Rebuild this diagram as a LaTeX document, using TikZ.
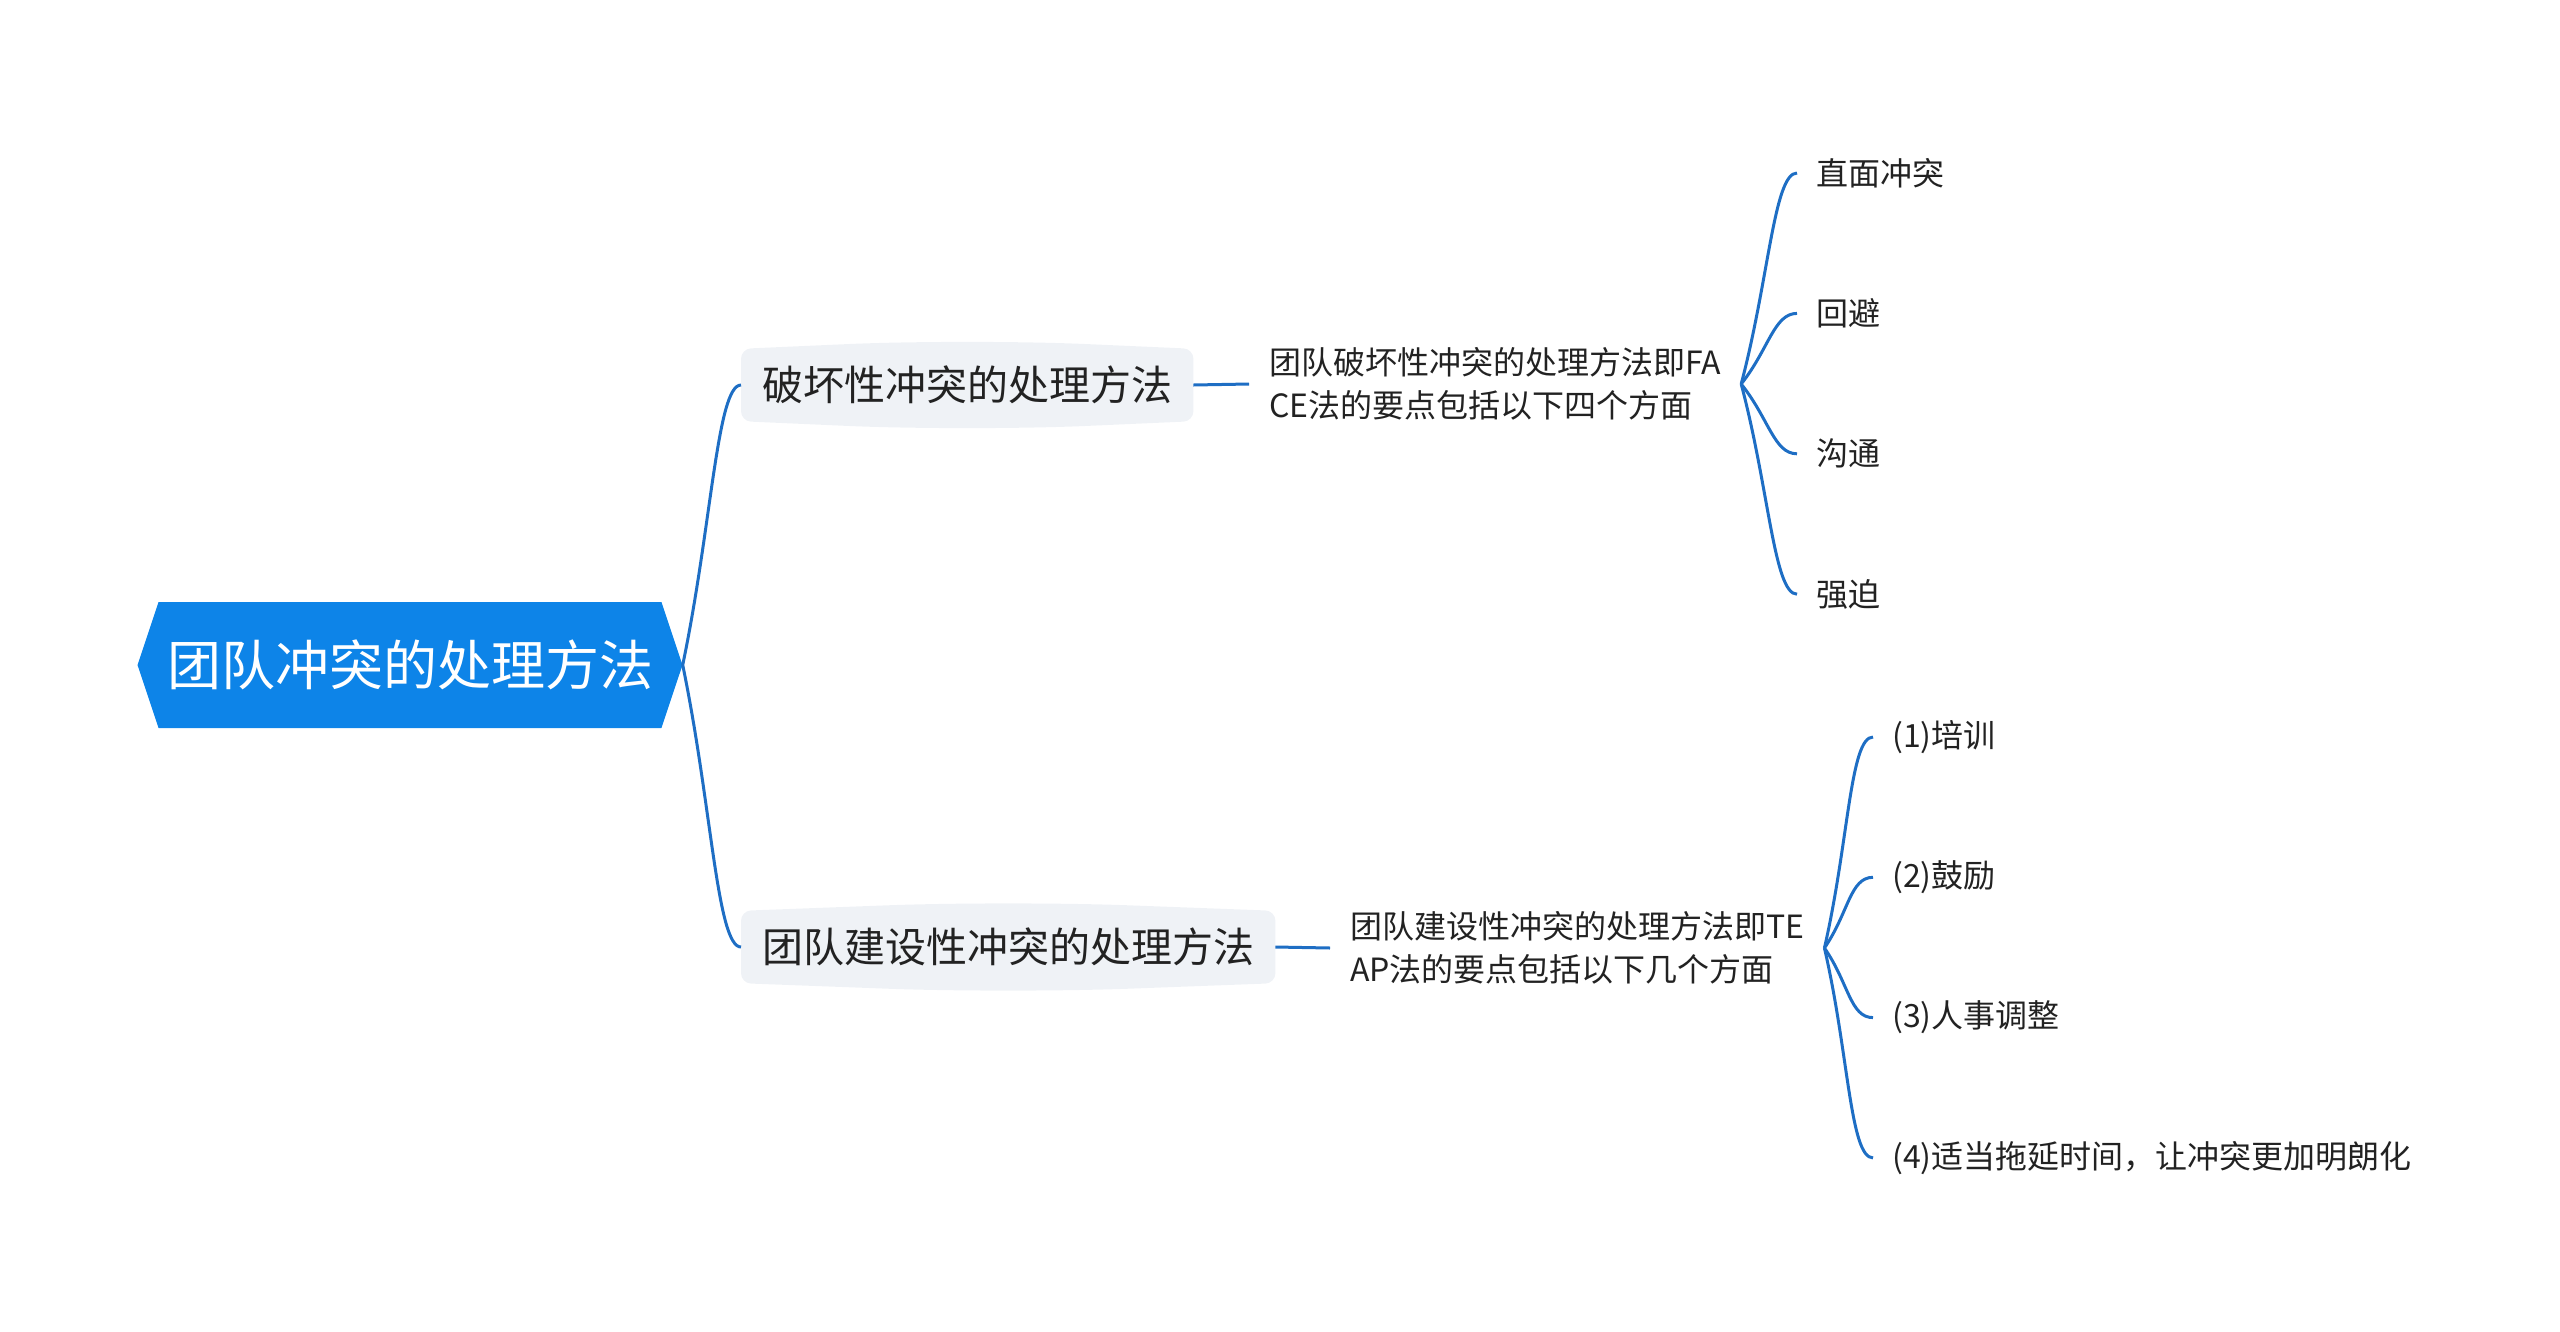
\documentclass[tikz,border=0pt]{standalone}
\usepackage{fontspec}
\setmainfont{Noto Sans CJK SC}
\usetikzlibrary{calc,backgrounds,shapes.symbols}
\definecolor{mmroot}{RGB}{13,132,232}
\definecolor{mmline}{RGB}{30,110,196}
\definecolor{mmtopic}{RGB}{239,242,246}
\definecolor{mmtext}{RGB}{34,34,34}
\tikzset{
  rootnode/.style={
    shape=signal, signal to=east and west, signal pointer angle=143,
    fill=mmroot, text=white, minimum width=545pt, minimum height=126pt,
    inner sep=0pt, font=\fontsize{54}{60}\selectfont
  },
  topic/.style={
    text=mmtext, anchor=west, inner xsep=21pt, inner ysep=0pt,
    minimum height=72pt, font=\fontsize{41}{48}\selectfont
  },
  topicbg/.style={fill=mmtopic, rounded corners=10pt},
  note/.style={
    text=mmtext, anchor=west, align=left, inner xsep=20pt, inner ysep=0pt,
    font=\fontsize{32}{43}\selectfont
  },
  leaf/.style={
    text=mmtext, anchor=west, inner xsep=19pt, inner ysep=0pt,
    font=\fontsize{32}{40}\selectfont
  },
  link/.style={draw=mmline, line width=3pt}
}
\begin{document}
\begin{tikzpicture}[x=1pt, y=-1pt]
  \useasboundingbox (0,0) rectangle (2560,1331);
  \node[rootnode] (root) at (410,665) {团队冲突的处理方法};
  \node[topic] (t1) at (741,385) {破坏性冲突的处理方法};
  \node[topic] (t2) at (741,947) {团队建设性冲突的处理方法};
  \node[note] (n1) at (1249,384) {团队破坏性冲突的处理方法即FA\\CE法的要点包括以下四个方面};
  \node[note] (n2) at (1330,948) {团队建设性冲突的处理方法即TE\\AP法的要点包括以下几个方面};
  \foreach \t [count=\i] in {直面冲突,回避,沟通,强迫}
    \node[leaf] (a\i) at (1797,{173+140.4*(\i-1)}) {\t};
  \foreach \t [count=\i] in {(1)培训,(2)鼓励,(3)人事调整,{(4)适当拖延时间，让冲突更加明朗化}}
    \node[leaf] (b\i) at (1873,{737+140.3*(\i-1)}) {\t};
  % topic backgrounds
  \begin{scope}[on background layer]
    \foreach \n in {t1,t2}
      \fill[topicbg] (\n.south west) -- (\n.north west)
        [rounded corners=120pt] -- ($(\n.north)+(0,-10)$)
        [rounded corners=10pt] -- (\n.north east) -- (\n.south east)
        [rounded corners=120pt] -- ($(\n.south)+(0,10)$)
        [rounded corners=10pt] -- cycle;
  \end{scope}
  % links
  \foreach \n in {t1,t2}
    \draw[link] (root.east) .. controls ($(root.east)!0.5!(\n.west)$) and ($(\n.west)+(-24,0)$) .. (\n.west);
  \draw[link] (t1.east) -- (n1.west);
  \draw[link] (t2.east) -- (n2.west);
  \foreach \i in {1,...,4} {
    \draw[link] (n1.east) .. controls ($(n1.east)!0.5!(a\i.west)$) and ($(a\i.west)+(-23,0)$) .. (a\i.west);
    \draw[link] (n2.east) .. controls ($(n2.east)!0.5!(b\i.west)$) and ($(b\i.west)+(-23,0)$) .. (b\i.west);
  }
\end{tikzpicture}
\end{document}
